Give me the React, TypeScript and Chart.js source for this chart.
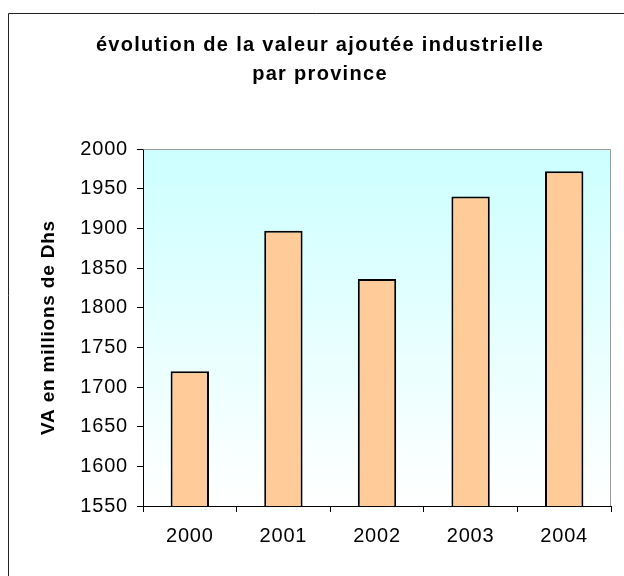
import React, { useEffect, useRef } from "react";
import { Chart, registerables } from "chart.js";

Chart.register(...registerables);

const categories = ["2000", "2001", "2002", "2003", "2004"];
const values = [1720, 1897, 1836, 1940, 1972];
const titleLines = ["évolution de la valeur ajoutée industrielle", "par province"];
const yAxisTitle = "VA en millions de Dhs";
const yMin = 1550;
const yMax = 2000;
const yStep = 50;

const FONT = "'Liberation Sans', Arial, sans-serif";

const decorPlugin = {
  id: "decor",
  beforeDraw(chart: any) {
    const { ctx, chartArea } = chart;
    ctx.save();
    const g = ctx.createLinearGradient(0, chartArea.top, 0, chartArea.bottom);
    g.addColorStop(0, "#ccffff");
    g.addColorStop(1, "#ffffff");
    ctx.fillStyle = g;
    ctx.fillRect(chartArea.left, chartArea.top, chartArea.right - chartArea.left, chartArea.bottom - chartArea.top);
    ctx.restore();
    (ctx as any).letterSpacing = "0.8px";
  },
  afterDraw(chart: any) {
    const { ctx, chartArea } = chart;
    (ctx as any).letterSpacing = "0px";
    ctx.save();
    // plot area top/right border
    ctx.strokeStyle = "#999999";
    ctx.lineWidth = 1;
    ctx.beginPath();
    ctx.moveTo(Math.round(chartArea.left) + 0.5, Math.round(chartArea.top) + 0.5);
    ctx.lineTo(Math.round(chartArea.right) - 0.5, Math.round(chartArea.top) + 0.5);
    ctx.lineTo(Math.round(chartArea.right) - 0.5, Math.round(chartArea.bottom));
    ctx.stroke();
    // outer frame
    ctx.strokeStyle = "#222222";
    ctx.beginPath();
    ctx.rect(8.5, 13.5, 800, 800);
    ctx.stroke();
    // title
    ctx.fillStyle = "#000000";
    ctx.font = `bold 20px ${FONT}`;
    ctx.textAlign = "center";
    ctx.textBaseline = "alphabetic";
    (ctx as any).letterSpacing = "1.3px";
    ctx.fillText(titleLines[0], 320, 51);
    ctx.fillText(titleLines[1], 320, 80);
    ctx.restore();
  },
};

export default function App() {
  const ref = useRef<HTMLCanvasElement | null>(null);
  useEffect(() => {
    if (!ref.current) return;
    const chart = new Chart(ref.current, {
      type: "bar",
      data: {
        labels: categories,
        datasets: [
          {
            data: values,
            backgroundColor: "#ffcc99",
            borderColor: "#000000",
            borderWidth: 2,
            borderSkipped: false,
            barPercentage: 0.41,
            categoryPercentage: 1,
          },
        ],
      },
      options: {
        animation: false,
        responsive: false,
        layout: { padding: { left: 0, top: 149, right: 13, bottom: 0 } },
        plugins: {
          legend: { display: false },
          title: { display: false },
          tooltip: { enabled: false },
        },
        scales: {
          x: {
            offset: true,
            afterFit: (s: any) => {
              s.height = 70;
            },
            grid: {
              display: true,
              offset: true,
              drawOnChartArea: false,
              drawTicks: true,
              tickLength: 6,
              color: "#000000",
            },
            border: { display: true, color: "#000000", width: 1 },
            ticks: {
              color: "#000000",
              font: { family: FONT, size: 20 },
              padding: 12,
              maxRotation: 0,
            },
          },
          y: {
            min: yMin,
            max: yMax,
            afterFit: (s: any) => {
              s.width = 143;
            },
            grid: {
              display: true,
              drawOnChartArea: false,
              drawTicks: true,
              tickLength: 6,
              color: "#000000",
            },
            border: { display: true, color: "#000000", width: 1 },
            ticks: {
              stepSize: yStep,
              color: "#000000",
              font: { family: FONT, size: 20 },
              padding: 9,
              callback: (v: any) => String(v),
            },
            title: {
              display: true,
              text: yAxisTitle,
              color: "#000000",
              font: { family: FONT, size: 19, weight: "bold" },
              padding: { top: 37, bottom: 0 },
            },
          },
        },
      },
      plugins: [decorPlugin],
    });
    return () => chart.destroy();
  }, []);
  return (
    <div style={{ position: "absolute", left: 0, top: 0, width: 624, height: 576, background: "#ffffff" }}>
      <canvas ref={ref} width={624} height={576} style={{ display: "block" }} />
    </div>
  );
}
